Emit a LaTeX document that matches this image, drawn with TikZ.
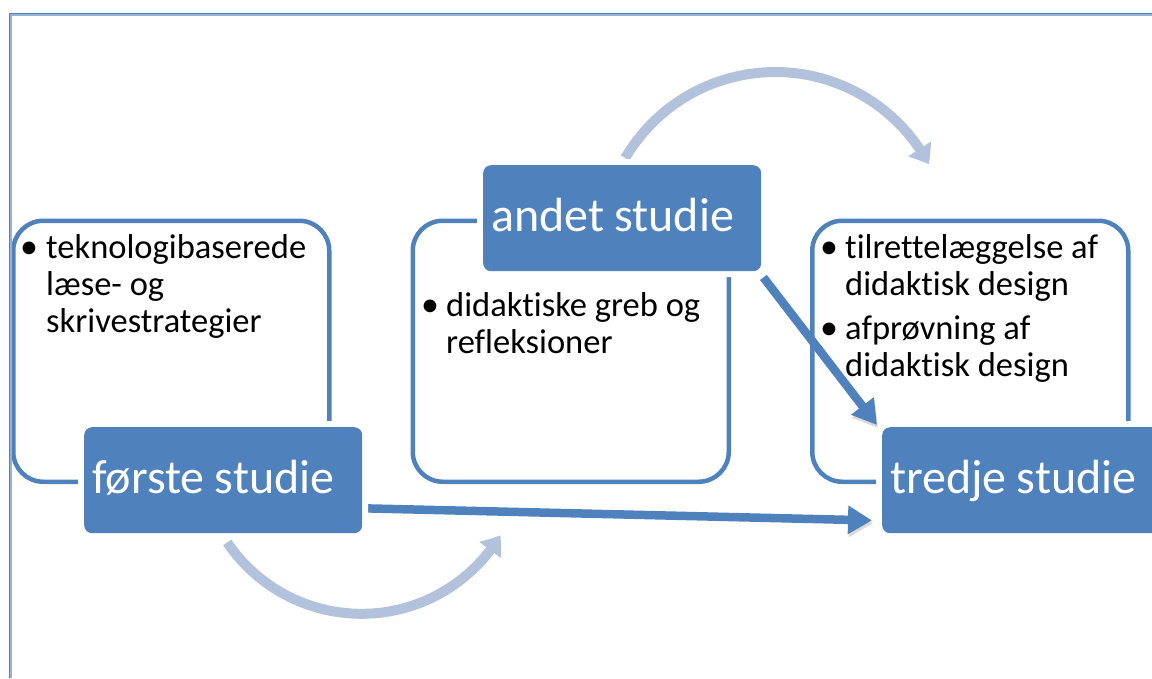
\documentclass[tikz,border=0pt]{standalone}
\usepackage{fontspec}
\setmainfont{Carlito}[Ligatures={NoCommon,NoContextual}]
\usetikzlibrary{arrows.meta,bending,calc}
\definecolor{accent}{HTML}{4F81BD}
\definecolor{accentlight}{HTML}{B2C2DD}
\definecolor{framelight}{HTML}{95B3D7}
\pgfdeclarelayer{bg}
\pgfdeclarelayer{fg}
\pgfsetlayers{bg,main,fg}

\begin{document}
\begin{tikzpicture}[x=1pt,y=-1pt,
  outerbox/.style={draw=accent, line width=4.5pt, rounded corners=30pt,
    minimum width=316pt, minimum height=261pt, anchor=north west, inner sep=0pt},
  stage/.style={fill=accent, rounded corners=8pt,
    preaction={draw=white, line width=12pt},
    minimum height=106pt, text width=262pt, inner xsep=8pt, inner ysep=0pt,
    align=left, text=white, font=\fontsize{48}{50}\selectfont,
    execute at begin node={\spaceskip=0.21em\relax},
    text height=26pt, text depth=0pt, anchor=north west},
  itemtext/.style={inner sep=0pt, anchor=base west, font=\fontsize{34.5}{37}\selectfont},
  bullet/.style={inner sep=0pt, anchor=base, font=\fontsize{36}{37}\selectfont},
  flow/.style={draw=accent, line width=8.5pt,
    -{Triangle[width=27pt, length=24pt]}},
  cycle/.style={draw=accentlight, line width=10pt,
    -{Triangle[width=26pt, length=18pt, bend]}},
  shadowed/.style={preaction={draw=black, opacity=0.15,
    transform canvas={shift={(1pt,-3pt)}}}},
]
\useasboundingbox (0,0) rectangle (1152,678);

% page frame: left and top edges only
\draw[accent, line width=1.6pt] (9.5,678) -- (9.5,13.5) -- (1152,13.5);
\draw[framelight, line width=1.4pt] (11,678) -- (11,15) -- (1152,15);

% outlined panels
\begin{pgfonlayer}{bg}
  \node[outerbox] (panelA) at (11,218.5) {};
  \node[outerbox] (panelB) at (410.5,218.5) {};
  \node[outerbox] (panelC) at (810,218.5) {};
\end{pgfonlayer}

% stage labels and panel texts
\begin{pgfonlayer}{fg}
  \node[stage] (first)  at (84,427)  {første studie};
  \node[stage] (second) at (483,165) {andet studie};
  \node[stage] (third)  at (882,427) {tredje studie};

  \node[bullet]   (bA)  at (29,258)  {•};
  \node[itemtext] (tA)  at (46,258)  {\parbox[t]{280pt}{teknologibaserede\\læse- og\\skrivestrategier}};

  \node[bullet]   (bB)  at (430,316) {•};
  \node[itemtext] (tB)  at (446,316) {\parbox[t]{280pt}{didaktiske greb og\\refleksioner}};

  \node[bullet]   (bC1) at (829,258) {•};
  \node[itemtext] (tC1) at (845,258) {\parbox[t]{280pt}{tilrettelæggelse af\\didaktisk design}};
  \node[bullet]   (bC2) at (829,339) {•};
  \node[itemtext] (tC2) at (845,339) {\parbox[t]{280pt}{afprøvning af\\didaktisk design}};
\end{pgfonlayer}

% cycle arcs between the stages
\draw[cycle] ($(first.south)+(4,9)$) arc[start angle=146, end angle=31, radius=162];
\draw[cycle] ($(second.north)+(3,-7)$) arc[start angle=210.4, end angle=332, radius=174];

% direct links into the third stage
\draw[flow, shadowed] ($(first.south east)+(5,-25)$) -- ($(third.south west)+(-10,-13)$);
\draw[flow, shadowed] ($(second.south east)+(2,6)$) -- ($(third.north west)+(-5,-2)$);
\end{tikzpicture}
\end{document}
